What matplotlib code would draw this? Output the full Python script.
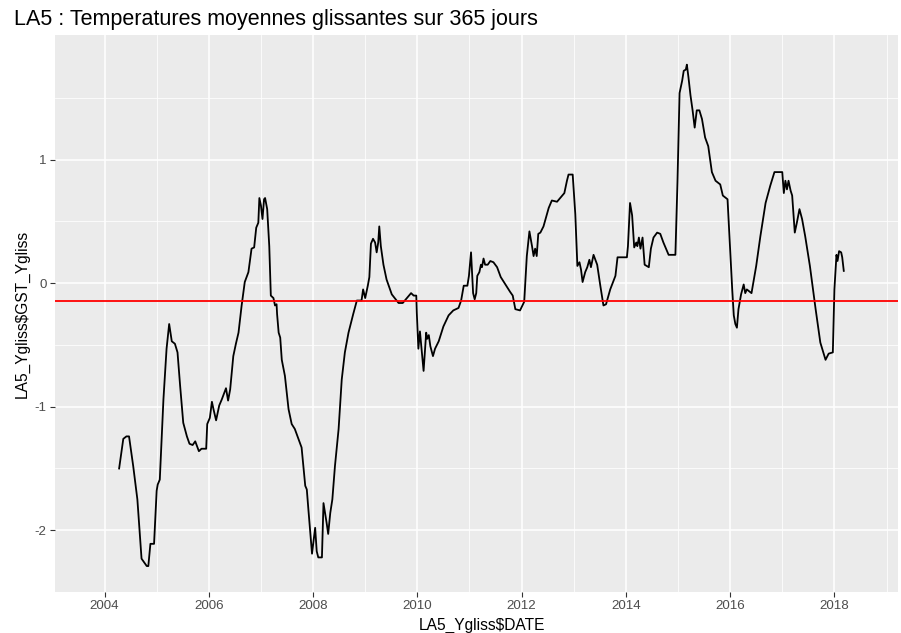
import matplotlib
matplotlib.use("Agg")
import matplotlib.pyplot as plt
from matplotlib.ticker import FixedLocator

# decimal year of each reading
years = [
    2004.28, 2004.36, 2004.42, 2004.47, 2004.55, 2004.63, 2004.71, 2004.81, 2004.84, 2004.88,
    2004.95, 2005.00, 2005.02, 2005.06, 2005.13, 2005.19, 2005.24, 2005.29, 2005.35, 2005.40,
    2005.45, 2005.51, 2005.58, 2005.63, 2005.69, 2005.74, 2005.81, 2005.86, 2005.95, 2005.97,
    2006.02, 2006.06, 2006.09, 2006.14, 2006.20, 2006.25, 2006.33, 2006.37, 2006.41, 2006.47,
    2006.52, 2006.57, 2006.63, 2006.69, 2006.76, 2006.82, 2006.87, 2006.91, 2006.95, 2006.97,
    2007.00, 2007.03, 2007.06, 2007.08, 2007.12, 2007.16, 2007.19, 2007.24, 2007.27, 2007.30,
    2007.31, 2007.34, 2007.37, 2007.40, 2007.46, 2007.53, 2007.59, 2007.65, 2007.72, 2007.78,
    2007.85, 2007.88, 2007.91, 2007.98, 2008.04, 2008.07, 2008.10, 2008.17, 2008.20, 2008.23,
    2008.26, 2008.29, 2008.33, 2008.37, 2008.42, 2008.49, 2008.55, 2008.61, 2008.68, 2008.77,
    2008.84, 2008.93, 2008.96, 2009.00, 2009.05, 2009.08, 2009.11, 2009.15, 2009.19, 2009.22,
    2009.25, 2009.27, 2009.30, 2009.35, 2009.41, 2009.51, 2009.64, 2009.72, 2009.80, 2009.88,
    2009.93, 2009.98, 2009.99, 2010.02, 2010.05, 2010.07, 2010.12, 2010.17, 2010.19, 2010.22,
    2010.25, 2010.30, 2010.34, 2010.41, 2010.50, 2010.60, 2010.69, 2010.79, 2010.84, 2010.89,
    2010.96, 2010.99, 2011.03, 2011.07, 2011.10, 2011.13, 2011.15, 2011.19, 2011.22, 2011.24,
    2011.27, 2011.30, 2011.35, 2011.40, 2011.46, 2011.53, 2011.60, 2011.69, 2011.78, 2011.83,
    2011.88, 2011.97, 2012.05, 2012.10, 2012.15, 2012.20, 2012.23, 2012.26, 2012.29, 2012.32,
    2012.36, 2012.42, 2012.52, 2012.58, 2012.68, 2012.74, 2012.82, 2012.87, 2012.90, 2012.98,
    2013.03, 2013.07, 2013.11, 2013.14, 2013.17, 2013.22, 2013.26, 2013.30, 2013.33, 2013.38,
    2013.45, 2013.51, 2013.57, 2013.62, 2013.70, 2013.80, 2013.84, 2014.02, 2014.04, 2014.08,
    2014.12, 2014.16, 2014.20, 2014.22, 2014.25, 2014.28, 2014.32, 2014.36, 2014.44, 2014.48,
    2014.53, 2014.60, 2014.66, 2014.72, 2014.82, 2014.95, 2014.99, 2015.03, 2015.08, 2015.11,
    2015.15, 2015.17, 2015.20, 2015.24, 2015.28, 2015.32, 2015.36, 2015.41, 2015.46, 2015.52,
    2015.58, 2015.65, 2015.72, 2015.81, 2015.86, 2015.95, 2016.00, 2016.04, 2016.07, 2016.10,
    2016.13, 2016.16, 2016.21, 2016.26, 2016.29, 2016.32, 2016.41, 2016.50, 2016.58, 2016.68,
    2016.77, 2016.85, 2017.00, 2017.03, 2017.06, 2017.09, 2017.12, 2017.16, 2017.19, 2017.24,
    2017.28, 2017.33, 2017.38, 2017.44, 2017.53, 2017.64, 2017.73, 2017.83, 2017.89, 2017.97,
    2018.00, 2018.04, 2018.06, 2018.09, 2018.13, 2018.15, 2018.18,
]

# 365-day rolling mean anomaly
gst_ygliss = [
    -1.50, -1.26, -1.24, -1.24, -1.48, -1.75, -2.23, -2.29, -2.29, -2.11,
    -2.11, -1.68, -1.63, -1.59, -0.94, -0.53, -0.33, -0.47, -0.49, -0.56,
    -0.83, -1.13, -1.24, -1.30, -1.31, -1.28, -1.36, -1.34, -1.34, -1.14,
    -1.09, -0.96, -1.02, -1.11, -0.99, -0.94, -0.85, -0.95, -0.86, -0.59,
    -0.49, -0.40, -0.18, 0.01, 0.09, 0.28, 0.29, 0.45, 0.49, 0.69,
    0.63, 0.52, 0.68, 0.69, 0.60, 0.30, -0.10, -0.12, -0.18, -0.17,
    -0.25, -0.40, -0.44, -0.62, -0.75, -1.02, -1.14, -1.18, -1.26, -1.33,
    -1.64, -1.67, -1.83, -2.19, -1.98, -2.17, -2.22, -2.22, -1.78, -1.86,
    -1.94, -2.03, -1.86, -1.75, -1.48, -1.18, -0.78, -0.56, -0.40, -0.25,
    -0.14, -0.14, -0.05, -0.12, -0.02, 0.05, 0.32, 0.36, 0.33, 0.25,
    0.33, 0.46, 0.30, 0.15, 0.03, -0.09, -0.16, -0.16, -0.12, -0.08,
    -0.10, -0.10, -0.24, -0.53, -0.39, -0.48, -0.71, -0.40, -0.45, -0.42,
    -0.51, -0.59, -0.53, -0.47, -0.35, -0.26, -0.22, -0.20, -0.14, -0.02,
    -0.02, 0.06, 0.25, -0.08, -0.13, -0.08, 0.06, 0.09, 0.15, 0.13,
    0.20, 0.15, 0.15, 0.18, 0.17, 0.13, 0.05, -0.01, -0.07, -0.10,
    -0.21, -0.22, -0.15, 0.22, 0.42, 0.30, 0.22, 0.28, 0.22, 0.40,
    0.41, 0.46, 0.61, 0.67, 0.66, 0.69, 0.73, 0.83, 0.88, 0.88,
    0.56, 0.14, 0.17, 0.11, 0.01, 0.09, 0.13, 0.19, 0.13, 0.23,
    0.15, -0.02, -0.18, -0.17, -0.05, 0.06, 0.21, 0.21, 0.30, 0.65,
    0.55, 0.29, 0.33, 0.30, 0.37, 0.28, 0.37, 0.15, 0.13, 0.28,
    0.37, 0.41, 0.40, 0.33, 0.23, 0.23, 0.82, 1.54, 1.64, 1.72,
    1.73, 1.77, 1.67, 1.52, 1.40, 1.26, 1.40, 1.40, 1.33, 1.18,
    1.11, 0.90, 0.83, 0.80, 0.71, 0.68, 0.28, -0.05, -0.26, -0.33,
    -0.36, -0.21, -0.09, -0.01, -0.08, -0.05, -0.08, 0.14, 0.38, 0.65,
    0.79, 0.90, 0.90, 0.73, 0.83, 0.76, 0.83, 0.75, 0.71, 0.41,
    0.49, 0.60, 0.52, 0.38, 0.14, -0.21, -0.48, -0.62, -0.57, -0.56,
    -0.05, 0.23, 0.18, 0.26, 0.25, 0.21, 0.10,
]

mean_level = -0.14
year_ticks = [2004, 2006, 2008, 2010, 2012, 2014, 2016, 2018]
value_ticks = [-2, -1, 0, 1]

plt.rcParams["font.family"] = ["Liberation Sans", "DejaVu Sans"]

fig = plt.figure(figsize=(9.01, 6.33), dpi=100)
ax = fig.add_axes([55 / 901, 1 - 592 / 633, 843 / 901, 557 / 633])
ax.set_facecolor("#EBEBEB")
for side in ax.spines.values():
    side.set_visible(False)

ax.set_xlim(2003.05, 2019.22)
ax.set_ylim(-2.50, 2.01)

ax.xaxis.set_major_locator(FixedLocator(year_ticks))
ax.xaxis.set_minor_locator(FixedLocator([y + 1 for y in year_ticks] + [2003]))
ax.yaxis.set_major_locator(FixedLocator(value_ticks))
ax.yaxis.set_minor_locator(FixedLocator([v + 0.5 for v in value_ticks] + [-2.5]))
ax.set_xticklabels([str(y) for y in year_ticks])
ax.set_yticklabels([str(v) for v in value_ticks])

ax.grid(which="major", color="white", linewidth=1.1)
ax.grid(which="minor", color="white", linewidth=0.55)
ax.set_axisbelow(True)
ax.tick_params(which="major", length=3.5, width=0.8, color="#333333",
               labelsize=9.6, labelcolor="#4D4D4D", pad=2.5)
ax.tick_params(which="minor", length=0)

ax.plot(years, gst_ygliss, color="black", linewidth=1.3)
ax.axhline(mean_level, color="#FF0000", linewidth=1.3)

ax.set_xlabel("LA5_Ygliss$DATE", fontsize=11.2)
ax.set_ylabel("LA5_Ygliss$GST_Ygliss", fontsize=11.2)
# label centres as measured on the reference
ax.xaxis.set_label_coords((482 - 55) / 843, -(625 - 592) / 557, transform=ax.transAxes)
ax.yaxis.set_label_coords(-(55 - 22) / 843, (592 - 314) / 557, transform=ax.transAxes)
ax.xaxis.label.set_va("center")
ax.yaxis.label.set_va("center")

fig.text(14 / 901, 1 - 20 / 633, "LA5 : Temperatures moyennes glissantes sur 365 jours",
         fontsize=15.5, ha="left", va="center")

fig.savefig("out.png", dpi=100)
